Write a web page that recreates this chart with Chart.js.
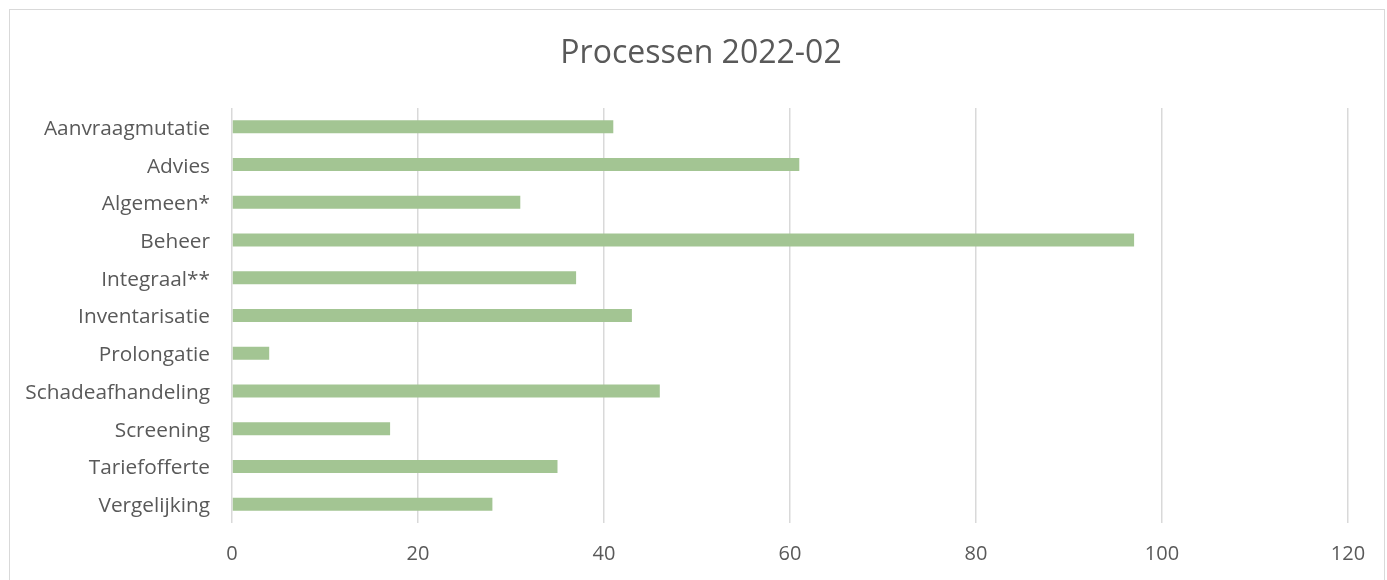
<!DOCTYPE html>
<html>
<head>
<meta charset="utf-8">
<script src="https://cdn.jsdelivr.net/npm/chart.js@4/dist/chart.umd.min.js"></script>
<style>
  html, body { margin: 0; padding: 0; background: #fff; }
  #wrap { position: relative; width: 1387px; height: 580px; }
  #frame { position: absolute; left: 9px; top: 9px; width: 1376px; height: 600px; border: 1px solid #d9d9d9; box-sizing: border-box; }
  canvas { position: absolute; left: 0; top: 0; }
</style>
</head>
<body>
<div id="wrap">
  <div id="frame"></div>
  <canvas id="chart" width="1387" height="580"></canvas>
</div>
<script>
const titleText = 'Processen 2022-02'
const categories = [
  'Aanvraagmutatie', 'Advies', 'Algemeen*', 'Beheer', 'Integraal**',
  'Inventarisatie', 'Prolongatie', 'Schadeafhandeling', 'Screening',
  'Tariefofferte', 'Vergelijking'
]
const counts = [41, 61, 31, 97, 37, 43, 4, 46, 17, 35, 28]
const xTicks = [0, 20, 40, 60, 80, 100, 120]

const textColor = '#595959'
const font = 'Open Sans'

// the title sits over the middle of the whole frame, not the layout box,
// so it is drawn here instead of by the title plugin
const frameTitle = {
  id: 'frameTitle',
  afterDraw(chart) {
    const ctx = chart.ctx
    ctx.save()
    ctx.font = '32px "' + font + '"'
    ctx.fillStyle = textColor
    ctx.textAlign = 'center'
    ctx.textBaseline = 'alphabetic'
    ctx.fillText(titleText, 701, 63)
    ctx.restore()
  }
}

new Chart(document.getElementById('chart'), {
  type: 'bar',
  data: {
    labels: categories,
    datasets: [{
      label: titleText,
      data: counts,
      backgroundColor: '#a3c593',
      borderWidth: 0,
      barPercentage: 0.345,
      categoryPercentage: 1
    }]
  },
  options: {
    indexAxis: 'y',
    responsive: false,
    animation: false,
    layout: { padding: { left: 0, right: 39, top: 108, bottom: 0 } },
    plugins: {
      legend: { display: false },
      tooltip: { enabled: false },
      title: { display: false }
    },
    scales: {
      x: {
        min: xTicks[0],
        max: xTicks[xTicks.length - 1],
        afterBuildTicks: scale => { scale.ticks = xTicks.map(v => ({ value: v })) },
        afterFit: scale => { scale.height = 57 },
        grid: { color: '#d9d9d9', lineWidth: 1.5, drawTicks: false },
        border: { display: false },
        ticks: { color: textColor, font: { family: font, size: 20 }, padding: 19 }
      },
      y: {
        afterFit: scale => { scale.width = 232 },
        grid: { display: false, drawTicks: false },
        border: { display: false },
        ticks: { color: textColor, font: { family: font, size: 20.8 }, padding: 22, labelOffset: 2, autoSkip: false }
      }
    }
  },
  plugins: [frameTitle]
})
</script>
</body>
</html>
